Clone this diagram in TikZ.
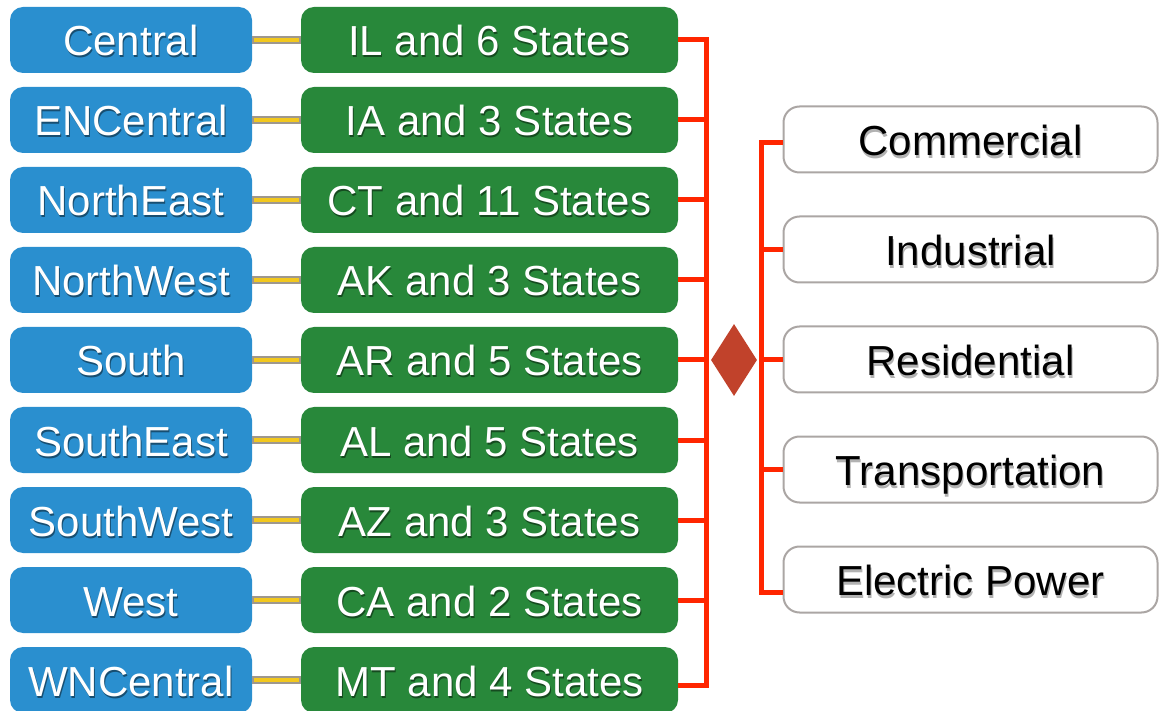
\documentclass[tikz,border=0pt]{standalone}
\usepackage{fontspec}
\setmainfont{Liberation Sans}
\usetikzlibrary{shapes.geometric}

\definecolor{regionblue}{RGB}{42,143,207}
\definecolor{stategreen}{RGB}{40,136,58}
\definecolor{linkred}{RGB}{255,38,0}
\definecolor{hubred}{RGB}{193,66,43}
\definecolor{framegray}{RGB}{171,166,164}
\definecolor{barshade}{RGB}{158,152,142}
\definecolor{baryellow}{RGB}{242,200,30}

\begin{document}
\begin{tikzpicture}[x=1pt,y=-1pt,
  bigtext/.style={font=\fontsize{42}{48}\selectfont, text height=30pt, text depth=0pt, inner sep=0pt},
  % white lettering with a dark drop shadow
  wshadow/.style={bigtext, text=black, opacity=0.45, xshift=1pt, yshift=-3pt},
  wtext/.style={bigtext, text=white, yshift=-1pt},
  whitelabel/.style={label={[wshadow]center:#1}, label={[wtext]center:#1}},
  % black lettering with a soft grey shadow
  kshadow/.style={bigtext, text=black, opacity=0.3, xshift=1pt, yshift=-4pt},
  ktext/.style={bigtext, text=black, yshift=-1pt},
  darklabel/.style={label={[kshadow]center:#1}, label={[ktext]center:#1}},
  regionbox/.style={fill=regionblue, rounded corners=13pt, minimum width=242pt, minimum height=66pt, inner sep=0pt},
  statebox/.style={fill=stategreen, rounded corners=13pt, minimum width=377pt, minimum height=66pt, inner sep=0pt},
  sectorbox/.style={draw=framegray, line width=2pt, fill=white, rounded corners=16pt, minimum width=374pt, minimum height=66pt, inner sep=0pt},
  barback/.style={draw=barshade, line width=8pt},
  barfront/.style={draw=baryellow, line width=4pt, shorten <=1.5pt, shorten >=1.5pt},
  redline/.style={draw=linkred, line width=5pt},
  hub/.style={diamond, fill=hubred, minimum width=46pt, minimum height=72pt, inner sep=0pt}
]
\useasboundingbox (0,0) rectangle (1160,711);

% trunk lines of the two brackets
\coordinate (spineL) at (706.5,0);
\coordinate (spineR) at (761.5,0);

% regions and their states
\foreach \i/\reg/\st in {1/Central/IL and 6 States, 2/ENCentral/IA and 3 States,
    3/NorthEast/CT and 11 States, 4/NorthWest/AK and 3 States, 5/South/AR and 5 States,
    6/SouthEast/AL and 5 States, 7/SouthWest/AZ and 3 States, 8/West/CA and 2 States,
    9/WNCentral/MT and 4 States} {
  \node[regionbox, whitelabel=\reg] (r\i) at (131,{40+80*(\i-1)}) {};
  \node[statebox, whitelabel=\st] (s\i) at (489.5,{40+80*(\i-1)}) {};
  \draw[barback] (r\i.east) -- (s\i.west);
  \draw[barfront] (r\i.east) -- (s\i.west);
}

% sectors
\foreach \i/\sec in {1/Commercial, 2/Industrial, 3/Residential, 4/Transportation, 5/Electric Power} {
  \node[sectorbox, darklabel=\sec] (w\i) at (970.5,{139.5+110*(\i-1)}) {};
}

% the hub between the brackets
\node[hub] (h) at (734,360) {};

% left bracket
\coordinate (f9) at ([yshift=-5pt]s9.east);
\draw[redline] (s1.east) -| (spineL |- f9) -- (f9);
\foreach \i in {2,...,8} {
  \draw[redline] (s\i.east) -- (s\i.east -| spineL);
}

% right bracket
\coordinate (e1) at ([yshift=-3pt]w1.west);
\coordinate (e5) at ([yshift=-13pt]w5.west);
\draw[redline] (e1) -| (spineR |- e5) -- (e5);
\foreach \i in {2,3,4} {
  \draw[redline] (w\i.west) -- (w\i.west -| spineR);
}
\end{tikzpicture}
\end{document}
